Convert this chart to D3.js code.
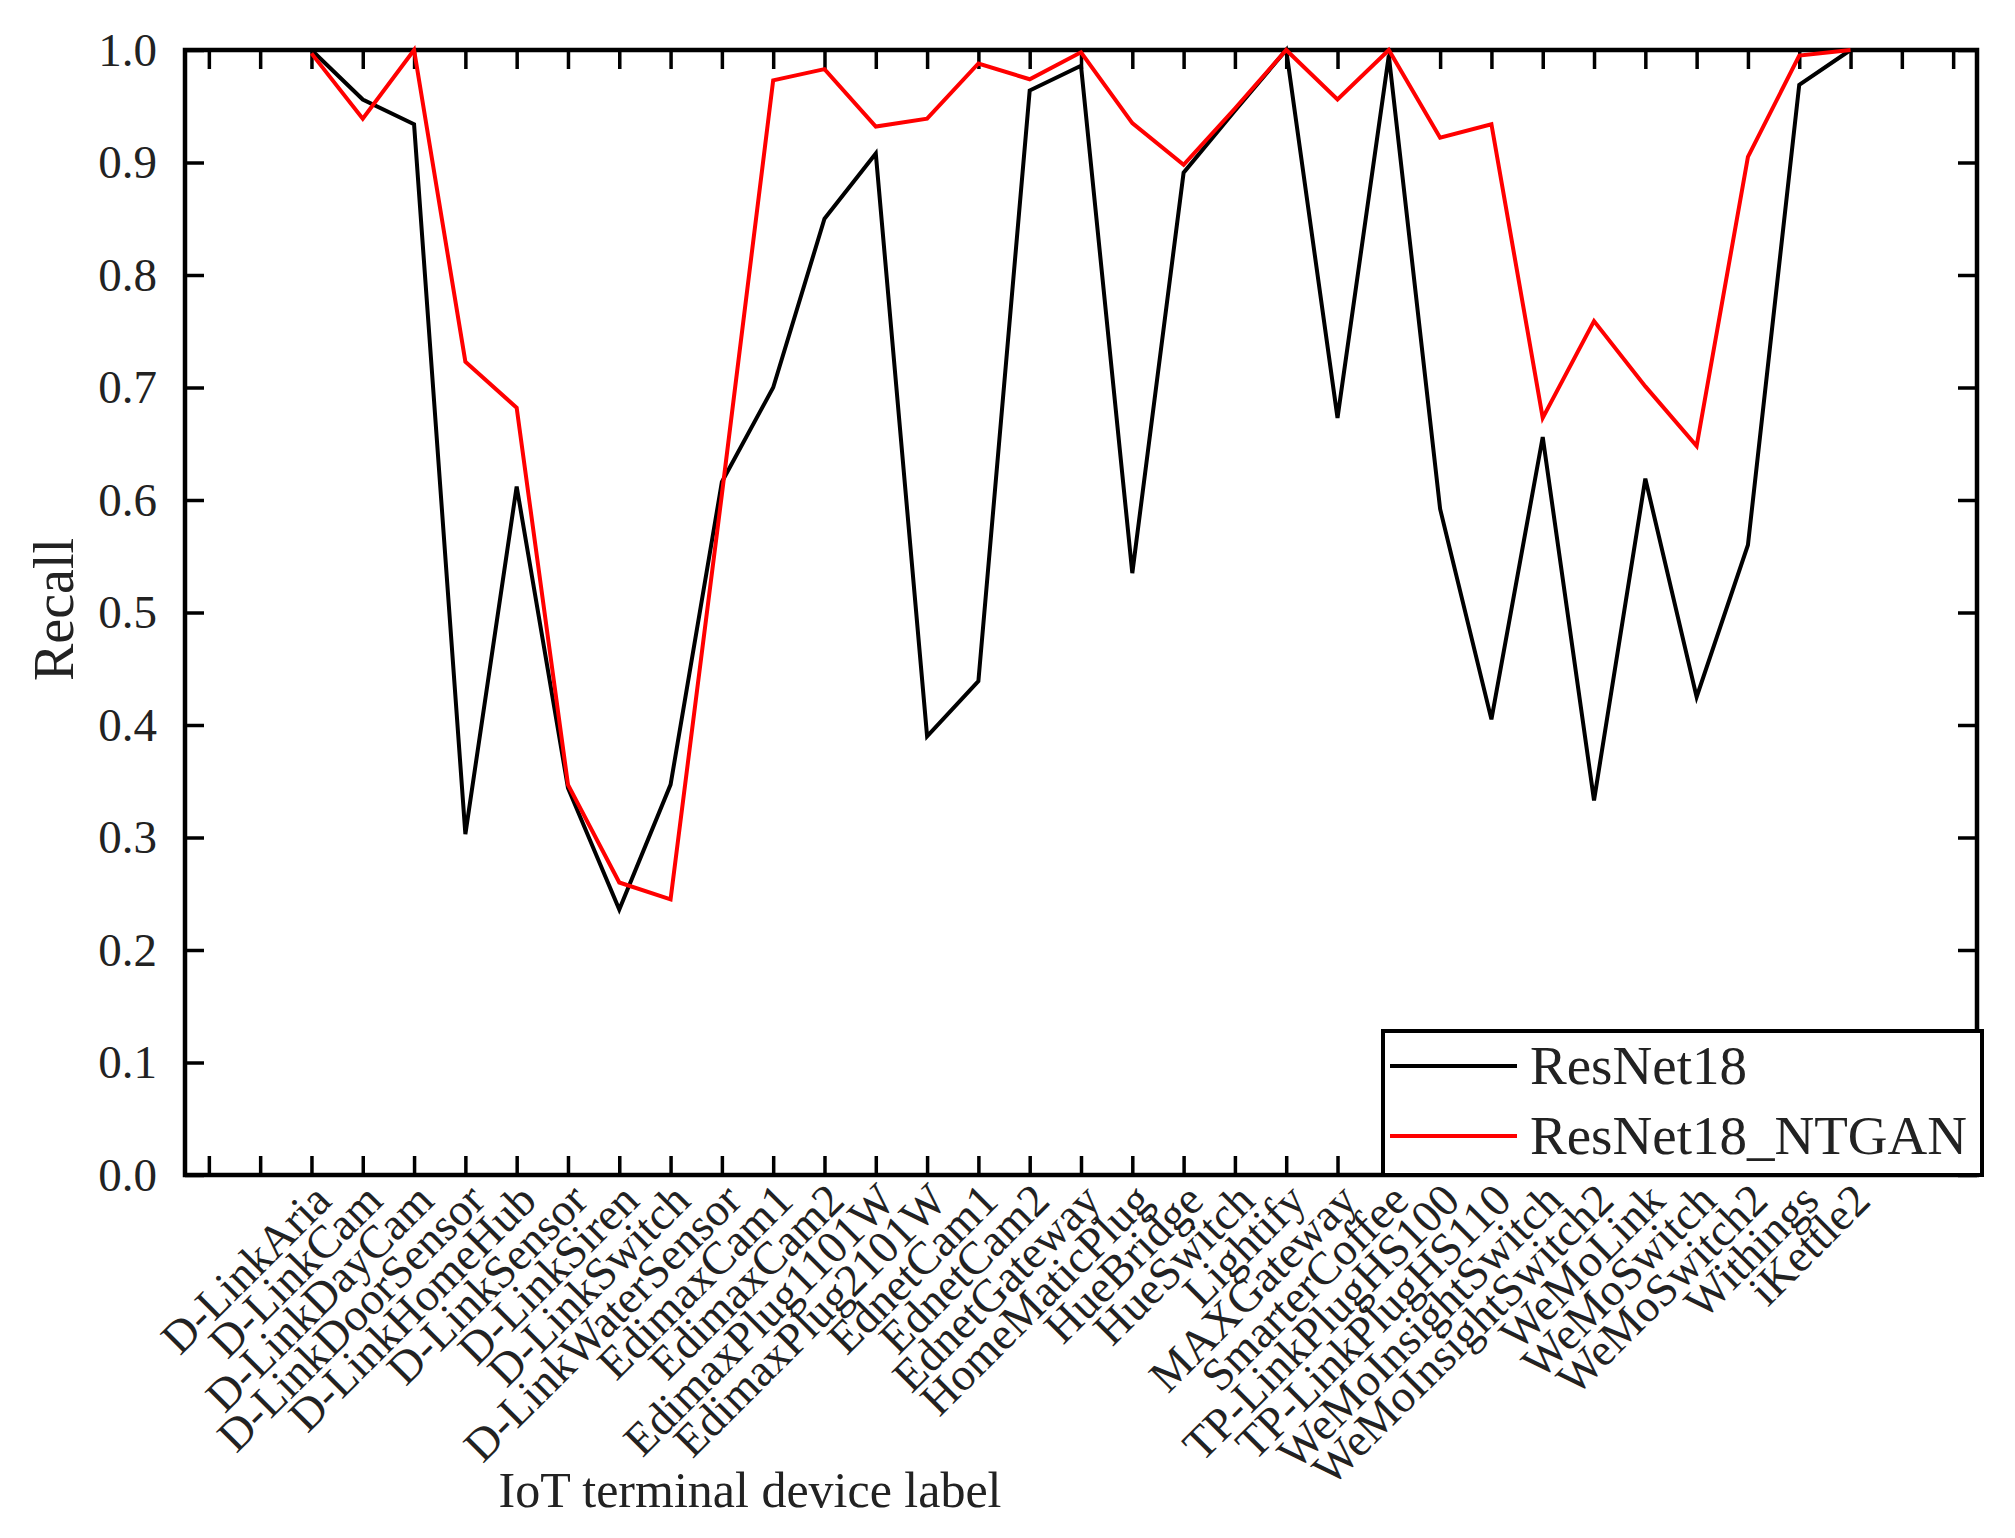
<!DOCTYPE html>
<html>
<head>
<meta charset="utf-8">
<script src="https://cdn.jsdelivr.net/npm/d3@7"></script>
<style>
  body { margin: 0; background: #fff; }
  text { font-family: "Liberation Serif", "DejaVu Serif", serif; fill: #222; }
</style>
</head>
<body>
<div id="chart"></div>
<script>
// device labels (one per data point)
const devices = ["D-LinkAria", "D-LinkCam", "D-LinkDayCam", "D-LinkDoorSensor", "D-LinkHomeHub",
   "D-LinkSensor", "D-LinkSiren", "D-LinkSwitch", "D-LinkWaterSensor", "EdimaxCam1", "EdimaxCam2",
   "EdimaxPlug1101W", "EdimaxPlug2101W", "EdnetCam1", "EdnetCam2", "EdnetGateway", "HomeMaticPlug",
   "HueBridge", "HueSwitch", "Lightify", "MAXGateway", "SmarterCoffee", "TP-LinkPlugHS100",
   "TP-LinkPlugHS110", "WeMoInsightSwitch", "WeMoInsightSwitch2", "WeMoLink", "WeMoSwitch",
   "WeMoSwitch2", "Withings", "iKettle2"];

// empty tick slots before and after the devices
const padBefore = ["pad0", "pad1"];
const padAfter = ["pad2", "pad3"];

const resnet18 = [1.0, 0.956, 0.934, 0.303, 0.612, 0.344, 0.236, 0.347, 0.616, 0.70, 0.850,
   0.908, 0.390, 0.439, 0.964, 0.986, 0.535, 0.891, 0.946, 1.0, 0.673, 0.995, 0.592,
   0.405, 0.656, 0.333, 0.619, 0.425, 0.560, 0.969, 1.0];

const resnet18Ntgan = [0.997, 0.939, 1.0, 0.723, 0.682, 0.347, 0.260, 0.245, 0.605, 0.973, 0.983,
   0.932, 0.939, 0.988, 0.974, 0.998, 0.935, 0.898, 0.948, 1.0, 0.956, 1.0, 0.922,
   0.934, 0.673, 0.759, 0.701, 0.648, 0.905, 0.995, 1.0];

const yTicks = [0, 0.1, 0.2, 0.3, 0.4, 0.5, 0.6, 0.7, 0.8, 0.9, 1.0];

const width = 2015, height = 1538;
const plotLeft = 185, plotRight = 1977, plotTop = 50, plotBottom = 1175;

const svg = d3.select("#chart")
   .append("svg")
   .attr("width", width)
   .attr("height", height);

const slots = [...padBefore, ...devices, ...padAfter];

const x = d3.scalePoint()
   .domain(slots)
   .range([plotLeft, plotRight])
   .padding(0.465);

const y = d3.scaleLinear()
   .domain([0, 1])
   .range([plotBottom, plotTop]);

// axes, ticks pointing inward
const xBottom = svg.append("g")
   .attr("transform", `translate(0, ${plotBottom})`)
   .call(d3.axisBottom(x).tickSize(-19).tickFormat(""));

svg.append("g")
   .attr("transform", `translate(0, ${plotTop})`)
   .call(d3.axisTop(x).tickSize(-19).tickFormat(""));

svg.append("g")
   .attr("transform", `translate(${plotLeft}, 0)`)
   .call(d3.axisLeft(y).tickValues(yTicks).tickSize(-19).tickPadding(28).tickFormat(d3.format(".1f")))
   .selectAll("text")
   .style("font-size", "47px")
   .attr("fill", "#222");

svg.append("g")
   .attr("transform", `translate(${plotRight}, 0)`)
   .call(d3.axisRight(y).tickValues(yTicks).tickSize(-19).tickFormat(""));

svg.selectAll(".domain").remove();
svg.selectAll(".tick line")
   .attr("stroke", "#000")
   .attr("stroke-width", 3.5);

// device labels, rotated
xBottom.selectAll(".devlabel")
   .data(devices)
   .enter()
   .append("text")
   .attr("class", "devlabel")
   .attr("transform", d => `translate(${x(d) + 22}, 28) rotate(-45)`)
   .attr("text-anchor", "end")
   .style("font-size", "46px")
   .text(d => d);

// frame
svg.append("rect")
   .attr("x", plotLeft)
   .attr("y", plotTop)
   .attr("width", plotRight - plotLeft)
   .attr("height", plotBottom - plotTop)
   .attr("fill", "none")
   .attr("stroke", "#000")
   .attr("stroke-width", 4.5);

const line = d3.line()
   .x((d, i) => x(devices[i]))
   .y(d => y(d));

svg.append("path")
   .datum(resnet18)
   .attr("fill", "none")
   .attr("stroke", "#000")
   .attr("stroke-width", 4)
   .attr("d", line);

svg.append("path")
   .datum(resnet18Ntgan)
   .attr("fill", "none")
   .attr("stroke", "#ff0000")
   .attr("stroke-width", 4)
   .attr("d", line);

// axis titles
svg.append("text")
   .attr("transform", `translate(73, ${(plotTop + plotBottom) / 2 - 3}) rotate(-90)`)
   .attr("text-anchor", "middle")
   .style("font-size", "56px")
   .text("Recall");

svg.append("text")
   .attr("x", 750)
   .attr("y", 1507)
   .attr("text-anchor", "middle")
   .style("font-size", "50px")
   .text("IoT terminal device label");

// legend
const legend = svg.append("g");

legend.append("rect")
   .attr("x", 1383)
   .attr("y", 1031)
   .attr("width", 599)
   .attr("height", plotBottom - 1031)
   .attr("fill", "#fff")
   .attr("stroke", "#000")
   .attr("stroke-width", 4);

const legendItems = [
   { name: "ResNet18", color: "#000" },
   { name: "ResNet18_NTGAN", color: "#ff0000" }
];

legendItems.forEach((item, i) => {
   const ly = 1066 + i * 70;
   legend.append("line")
      .attr("x1", 1390)
      .attr("x2", 1517)
      .attr("y1", ly)
      .attr("y2", ly)
      .attr("stroke", item.color)
      .attr("stroke-width", 4);
   legend.append("text")
      .attr("x", 1530)
      .attr("y", ly + 18)
      .style("font-size", "55px")
      .text(item.name);
});
</script>
</body>
</html>
